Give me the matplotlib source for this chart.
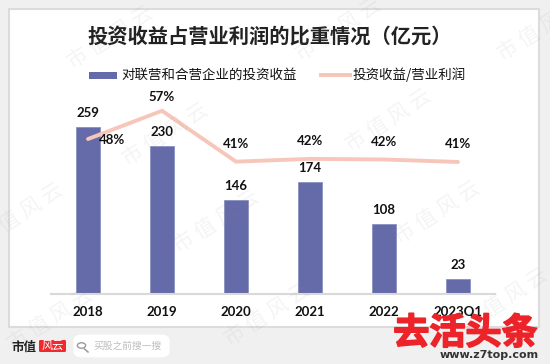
import matplotlib
matplotlib.use("Agg")
import matplotlib.pyplot as plt
import matplotlib.patheffects as pe
from matplotlib.patches import Rectangle, FancyBboxPatch, Circle
from matplotlib.lines import Line2D

plt.rcParams['font.family'] = ['Noto Sans CJK SC', 'DejaVu Sans']

years = ['2018', '2019', '2020', '2021', '2022', '2023Q1']
income = [259, 230, 146, 174, 108, 23]
ratio = [48.2, 57.3, 40.9, 41.8, 41.6, 40.8]

W, H = 550, 364
NUM_FONT = ['Lato', 'DejaVu Sans']
BAR_COLOR = '#656BA8'
LINE_COLOR = '#F7C6BA'


def fx(x):
    return x / W


def fy(y):
    return 1 - y / H


fig = plt.figure(figsize=(W / 100, H / 100), dpi=100, facecolor='#F0F0F0')

# white panel, has to stay under the axes
fig.add_artist(Rectangle((fx(9), fy(327)), 530 / W, 318 / H, transform=fig.transFigure,
                         facecolor='white', edgecolor='#DCDCDC', linewidth=1.5, zorder=-5))

# plot area, 74px per category
ax = fig.add_axes([fx(51), fy(293.5), 444 / W, 203.5 / H])
ax.patch.set_alpha(0)
ax.bar(range(6), income, width=0.315, color=BAR_COLOR, edgecolor='#8389BE', linewidth=0.5)
ax.set_xlim(-0.5, 5.5)
ax.set_ylim(0, 316.5)
ax.set_yticks([])
ax.set_xticks(range(6))
ax.set_xticklabels(years, fontsize=9.5, fontweight='bold', family=NUM_FONT, color='#111111')
ax.tick_params(axis='x', length=0, pad=9)
for s in ['top', 'left', 'right']:
    ax.spines[s].set_visible(False)
ax.spines['bottom'].set_color('#D9D9D9')
ax.spines['bottom'].set_linewidth(1.5)

for i, v in enumerate(income):
    ax.annotate(str(v), (i, v), xytext=(0, 10), textcoords='offset points', ha='center', va='center',
                fontsize=9.5, fontweight='bold', family=NUM_FONT, color='#111111')

ax2 = ax.twinx()
ax2.patch.set_alpha(0)
ax2.plot(range(6), ratio, color=LINE_COLOR, linewidth=2.8, solid_capstyle='round', solid_joinstyle='miter')
ax2.set_ylim(-1.6, 64)
ax2.set_yticks([])
for s in ax2.spines.values():
    s.set_visible(False)

offsets = [(17, -0.5), (0, 10), (0, 12.5), (0, 13), (0, 12.5), (0, 13)]
for i, v in enumerate(ratio):
    ax2.annotate(f'{v:.0f}%', (i, v), xytext=offsets[i], textcoords='offset points', ha='center', va='center',
                 fontsize=9.5, fontweight='bold', family=NUM_FONT, color='#111111')

# title and legend
fig.text(fx(270), fy(36), '投资收益占营业利润的比重情况（亿元）', fontsize=14.6, fontweight='bold',
         ha='center', va='center', color='#222222')
fig.add_artist(Rectangle((fx(89), fy(79)), 28 / W, 7 / H, transform=fig.transFigure,
                         facecolor=BAR_COLOR, edgecolor='none'))
fig.text(fx(121), fy(74.5), '对联营和合营企业的投资收益', fontsize=9.7, fontweight='medium', ha='left', va='center',
         color='#111111')
fig.add_artist(Line2D([fx(321), fx(350)], [fy(75), fy(75)], transform=fig.transFigure,
                      color=LINE_COLOR, linewidth=2.8))
fig.text(fx(353), fy(74.5), '投资收益/营业利润', fontsize=9.7, fontweight='medium', ha='left', va='center',
         color='#111111')

# watermark
marks = [(110, 38), (165, 135), (338, 30), (388, 121), (540, 30), (20, 215), (216, 222),
         (437, 213), (267, 315), (50, 320), (505, 300)]
for mx, my in marks:
    fig.text(fx(mx), fy(my), '市 值 风 云', fontsize=15, rotation=33, rotation_mode='anchor', ha='center',
             va='center', color='#8A8A8A', alpha=0.09, zorder=5)

# bottom left brand
fig.text(fx(11), fy(347), '市值', fontsize=9, fontweight='black', ha='left', va='center', color='#222222', zorder=6)
fig.add_artist(FancyBboxPatch((fx(39), fy(352)), 27 / W, 12 / H, boxstyle='round,pad=0,rounding_size=0.003',
                              transform=fig.transFigure, facecolor='#EE2A2E', edgecolor='none'))
fig.text(fx(52.5), fy(346), '风云', fontsize=8, ha='center', va='center', color='white', zorder=6)
fig.add_artist(FancyBboxPatch((fx(80), fy(353)), 83 / W, 14 / H, boxstyle='round,pad=0.012,rounding_size=0.016',
                              transform=fig.transFigure, facecolor='white', edgecolor='none'))
fig.add_artist(Circle((fx(81.5), fy(345.5)), 0.0075, transform=fig.transFigure, facecolor='none',
                      edgecolor='#9A9A9A', linewidth=1))
fig.add_artist(Line2D([fx(84.5), fx(88)], [fy(349), fy(352)], transform=fig.transFigure, color='#9A9A9A', linewidth=1.1))
fig.text(fx(93), fy(346), '买股之前搜一搜', fontsize=7, ha='left', va='center', color='#BDBDBD', zorder=6)

# bottom right site mark
t = fig.text(fx(465.5), fy(333.5), '去活头条', fontsize=26, fontweight='black', ha='center', va='center',
             color='#EC2329', zorder=8)
t.set_path_effects([pe.withStroke(linewidth=1.2, foreground='#EC2329')])
fig.text(fx(539), fy(355), 'www.z7top.com', fontsize=8, fontweight='bold', ha='right', va='center',
         color='#333333', family=['DejaVu Sans'], zorder=8)

fig.savefig('out.png', dpi=100, facecolor=fig.get_facecolor())
